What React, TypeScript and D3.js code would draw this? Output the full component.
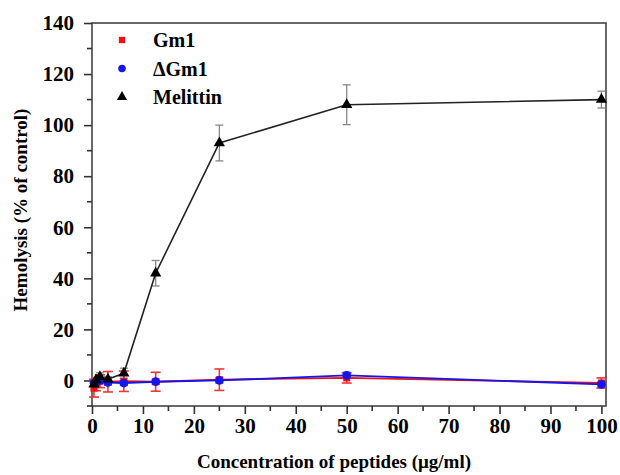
import React, { useEffect, useRef } from 'react';
import * as d3 from 'd3';

// concentrations (µg/ml)
const conc = [0.39, 0.78, 1.56, 3.125, 6.25, 12.5, 25, 50, 100];
const gm1 = [-3, -1.5, -0.3, -0.5, -0.3, -0.5, 0.3, 1, -1];
const gm1Err = [3.5, 2.5, 2.5, 4, 4, 3.7, 4.2, 2, 2];
const dgm1 = [-1, -0.8, 0, -0.8, -1, -0.5, 0, 2, -1.5];
const dgm1Err = [1, 1, 1, 1, 1, 1, 1, 1.2, 1];
const melittin = [-1.5, 0.2, 1.5, 0.5, 2.8, 42, 93, 108, 110];
const melittinErr = [1, 1, 1.5, 1, 2, 5, 7, 7.8, 3.3];
const xTicks = [0, 10, 20, 30, 40, 50, 60, 70, 80, 90, 100];
const yTicks = [0, 20, 40, 60, 80, 100, 120, 140];
const legendLabels = ['Gm1', '\u0394Gm1', 'Melittin'];

const FONT = 'Liberation Serif';

const App = () => {
  const svgRef = useRef<SVGSVGElement>(null);

  useEffect(() => {
    const svg = d3.select(svgRef.current);
    svg.selectAll('*').remove();

    const left = 92, right = 606, top = 23, bottom = 406;
    const x = d3.scaleLinear().domain([0, 100.9]).range([left, right]);
    const y = d3.scaleLinear().domain([-10, 140]).range([bottom, top]);

    const axisColor = '#333';

    // frame
    svg.append('rect')
      .attr('x', left).attr('y', top)
      .attr('width', right - left).attr('height', bottom - top)
      .attr('fill', 'none').attr('stroke', '#444').attr('stroke-width', 1.6);

    // x axis ticks
    const xAxis = svg.append('g')
      .attr('transform', `translate(0,${bottom})`)
      .call(d3.axisBottom(x).tickValues(xTicks).tickSize(8).tickPadding(4).tickFormat(d3.format('d')));
    xAxis.attr('font-family', null).attr('font-size', null);
    xAxis.select('.domain').remove();
    xAxis.selectAll('line').attr('stroke', axisColor).attr('stroke-width', 1.6);
    xAxis.selectAll('text')
      .attr('fill', '#000').attr('font-family', FONT).attr('font-size', 21).attr('font-weight', 'bold');
    const xMinor = d3.range(5, 100, 10);
    svg.append('g').selectAll('line').data(xMinor).enter().append('line')
      .attr('x1', d => x(d)).attr('x2', d => x(d))
      .attr('y1', bottom).attr('y2', bottom + 5)
      .attr('stroke', axisColor).attr('stroke-width', 1.6);

    // y axis ticks
    const yAxis = svg.append('g')
      .attr('transform', `translate(${left},0)`)
      .call(d3.axisLeft(y).tickValues(yTicks).tickSize(8).tickPadding(10).tickFormat(d3.format('d')));
    yAxis.attr('font-family', null).attr('font-size', null);
    yAxis.select('.domain').remove();
    yAxis.selectAll('line').attr('stroke', axisColor).attr('stroke-width', 1.6);
    yAxis.selectAll('text')
      .attr('fill', '#000').attr('font-family', FONT).attr('font-size', 21).attr('font-weight', 'bold');
    const yMinor = d3.range(-10, 140, 20);
    svg.append('g').selectAll('line').data(yMinor).enter().append('line')
      .attr('x1', left - 5).attr('x2', left)
      .attr('y1', d => y(d)).attr('y2', d => y(d))
      .attr('stroke', axisColor).attr('stroke-width', 1.6);

    // axis titles
    svg.append('text')
      .attr('x', 334).attr('y', 468)
      .attr('text-anchor', 'middle')
      .attr('font-family', FONT).attr('font-size', 19).attr('font-weight', 'bold')
      .text('Concentration of peptides (\u03bcg/ml)');
    svg.append('text')
      .attr('transform', 'translate(27,210) rotate(-90)')
      .attr('text-anchor', 'middle')
      .attr('font-family', FONT).attr('font-size', 19).attr('font-weight', 'bold')
      .text('Hemolysis (% of control)');

    const line = d3.line<[number, number]>().x(d => x(d[0])).y(d => y(d[1]));

    const errorBars = (vals: number[], errs: number[], color: string, cap: number, sw: number) => {
      const g = svg.append('g').attr('stroke', color).attr('stroke-width', sw);
      conc.forEach((c, i) => {
        const cx = x(c);
        const y1 = y(vals[i] + errs[i]);
        const y2 = y(vals[i] - errs[i]);
        g.append('line').attr('x1', cx).attr('x2', cx).attr('y1', y1).attr('y2', y2);
        g.append('line').attr('x1', cx - cap).attr('x2', cx + cap).attr('y1', y1).attr('y2', y1);
        g.append('line').attr('x1', cx - cap).attr('x2', cx + cap).attr('y1', y2).attr('y2', y2);
      });
    };

    // error bars
    errorBars(melittin, melittinErr, '#888', 4, 1.3);
    errorBars(gm1, gm1Err, '#f03535', 5, 1.6);
    errorBars(dgm1, dgm1Err, '#3a3aff', 4, 1.3);

    // lines
    svg.append('path').datum(conc.map((c, i) => [c, melittin[i]] as [number, number]))
      .attr('fill', 'none').attr('stroke', '#222').attr('stroke-width', 1.6).attr('d', line);
    svg.append('path').datum(conc.map((c, i) => [c, gm1[i]] as [number, number]))
      .attr('fill', 'none').attr('stroke', '#ee1111').attr('stroke-width', 1.8).attr('d', line);
    svg.append('path').datum(conc.map((c, i) => [c, dgm1[i]] as [number, number]))
      .attr('fill', 'none').attr('stroke', '#1515ee').attr('stroke-width', 1.8).attr('d', line);

    const sq = d3.symbol().type(d3.symbolSquare).size(50);
    const ci = d3.symbol().type(d3.symbolCircle).size(60);
    const tri = d3.symbol().type(d3.symbolTriangle).size(55);

    svg.append('g').selectAll('path').data(conc).enter().append('path')
      .attr('d', sq).attr('fill', '#ee1111')
      .attr('transform', (c, i) => `translate(${x(c)},${y(gm1[i])})`);
    svg.append('g').selectAll('path').data(conc).enter().append('path')
      .attr('d', ci).attr('fill', '#1515ee')
      .attr('transform', (c, i) => `translate(${x(c)},${y(dgm1[i])})`);
    svg.append('g').selectAll('path').data(conc).enter().append('path')
      .attr('d', tri).attr('fill', '#000')
      .attr('transform', (c, i) => `translate(${x(c)},${y(melittin[i])})`);

    // legend
    const legendSymbols = [
      { sym: d3.symbol().type(d3.symbolSquare).size(40), color: '#ee1111' },
      { sym: d3.symbol().type(d3.symbolCircle).size(45), color: '#1515ee' },
      { sym: d3.symbol().type(d3.symbolTriangle).size(45), color: '#000' },
    ];
    legendLabels.forEach((lab, i) => {
      const ly = 40 + i * 28.5;
      svg.append('path').attr('d', legendSymbols[i].sym)
        .attr('fill', legendSymbols[i].color)
        .attr('transform', `translate(122,${ly})`);
      svg.append('text')
        .attr('x', 153).attr('y', ly + 7)
        .attr('font-family', FONT).attr('font-size', 20).attr('font-weight', 'bold')
        .text(lab);
    });
  }, []);

  return (
    <svg ref={svgRef} width={620} height={475}
      style={{ position: 'absolute', left: 0, top: 0, background: '#fff' }} />
  );
};

export default App;
